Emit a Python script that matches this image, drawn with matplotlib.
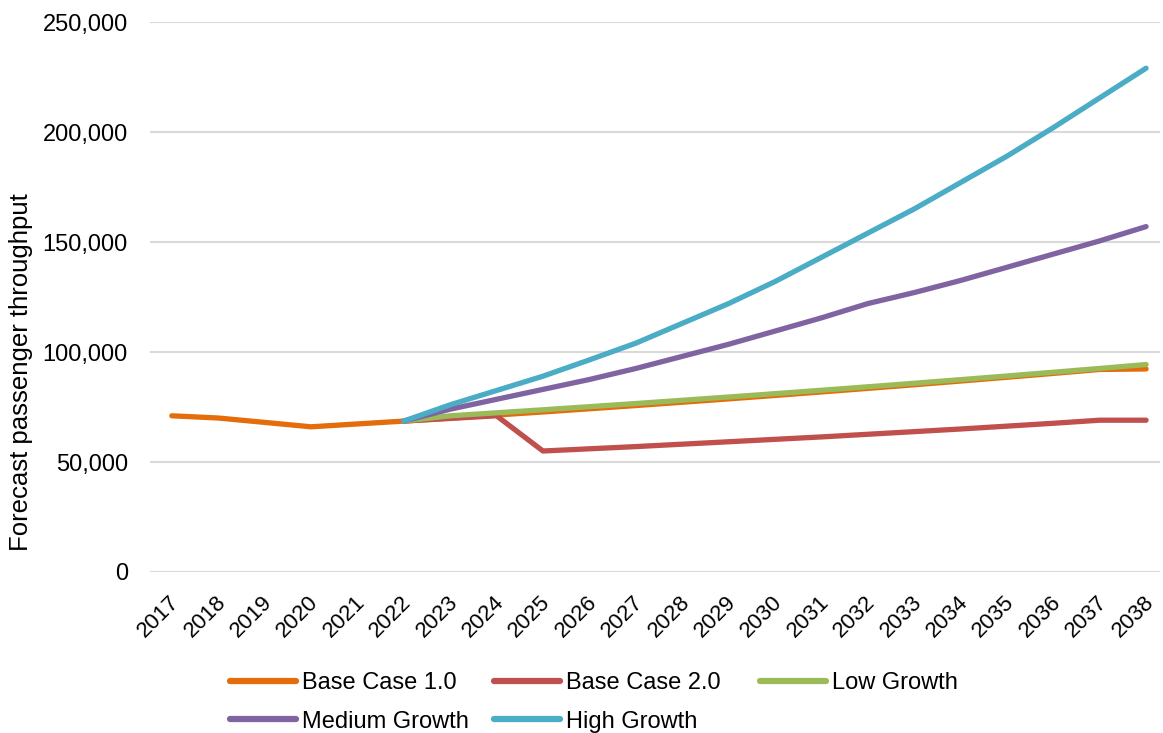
import matplotlib
matplotlib.use("Agg")
import matplotlib.pyplot as plt
from matplotlib.ticker import FuncFormatter
from matplotlib.transforms import ScaledTranslation

plt.rcParams['font.family'] = ['Liberation Sans', 'DejaVu Sans']

years = [str(y) for y in range(2017, 2039)]

# Passenger throughput scenarios (None = no value for that year)
base_case_1 = [71000, 70000, 68000, 66000, 67300, 68600, 69960, 71340, 72750,
               74190, 75660, 77160, 78690, 80250, 81840, 83460, 85110, 86800,
               88520, 90270, 92060, 92300]
base_case_2 = [None, None, None, None, None, 68600, 69800, 71000, 55000,
               56000, 57000, 58100, 59200, 60300, 61400, 62600, 63800, 65000,
               66300, 67600, 69000, 69000]
low_growth = [None, None, None, None, None, 68600, 71000, 72360, 73740,
              75150, 76580, 78050, 79540, 81060, 82600, 84180, 85790, 87430,
              89100, 90800, 92530, 94300]
medium_growth = [None, None, None, None, None, 68600, 74000, 78500, 83000,
                 87500, 92500, 98000, 103500, 109500, 115500, 122000, 127000,
                 132500, 138500, 144500, 150500, 157000]
high_growth = [None, None, None, None, None, 68600, 76000, 82500, 89000,
               96400, 104000, 113000, 122000, 132000, 143000, 154000, 165000,
               177000, 189000, 202000, 215500, 229000]

series = [
    ("Base Case 1.0", base_case_1, "#E46C0A"),
    ("Base Case 2.0", base_case_2, "#C0504D"),
    ("Low Growth", low_growth, "#9BBB59"),
    ("Medium Growth", medium_growth, "#8064A2"),
    ("High Growth", high_growth, "#4BACC6"),
]

W, H = 1163, 733
fig = plt.figure(figsize=(W / 100, H / 100), dpi=100)
ax = fig.add_axes([150 / W, 1 - 572 / H, 1010 / W, 550 / H])

x = list(range(len(years)))
handles = {}
for label, values, color in series:
    xs = [i for i, v in zip(x, values) if v is not None]
    ys = [v for v in values if v is not None]
    line, = ax.plot(xs, ys, color=color, linewidth=3.8, label=label,
                    solid_capstyle='round', solid_joinstyle='round')
    handles[label] = line

ax.set_ylim(0, 250000)
ax.set_yticks(range(0, 250001, 50000))
ax.yaxis.set_major_formatter(FuncFormatter(lambda v, p: f"{int(v):,}"))
ax.set_xlim(-0.47, 21.3)
ax.set_xticks(x)
ax.set_xticklabels(years, rotation=45, ha='right', rotation_mode='anchor')

ax.grid(axis='y', color='#D9D9D9', linewidth=1.5)
ax.set_axisbelow(True)
for s in ax.spines.values():
    s.set_visible(False)
ax.tick_params(axis='both', length=0, colors='black')
ax.tick_params(axis='y', labelsize=17, pad=16)
ax.tick_params(axis='x', labelsize=16, pad=14)

shift = ScaledTranslation(-3 / 100, 0, fig.dpi_scale_trans)
for lbl in ax.get_xticklabels():
    lbl.set_transform(lbl.get_transform() + shift)

fig.text(21 / W, 1 - 372 / H, "Forecast passenger throughput",
         rotation=90, ha='center', va='center', fontsize=18.5)

# Legend laid out as three fixed-width columns
columns = [["Base Case 1.0", "Medium Growth"],
           ["Base Case 2.0", "High Growth"],
           ["Low Growth"]]
col_x = [230, 494, 760]
for names, cx in zip(columns, col_x):
    leg = fig.legend([handles[n] for n in names], names,
                     loc='upper left', bbox_to_anchor=(cx / W, 1 - 672 / H),
                     frameon=False, fontsize=17, handlelength=2.8,
                     handletextpad=0.27, labelspacing=0.7,
                     borderaxespad=0, borderpad=0)
    for h in leg.legend_handles:
        h.set_linewidth(4.5)

fig.savefig("out.png", dpi=100)
